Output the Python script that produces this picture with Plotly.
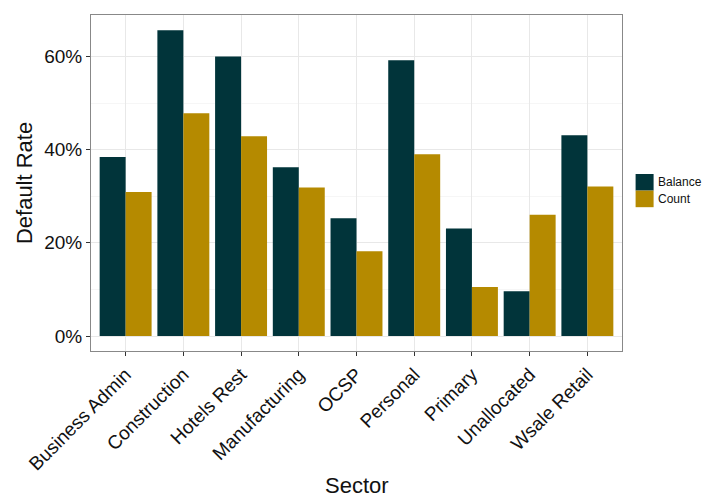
import plotly.graph_objects as go

sectors = ["Business Admin", "Construction", "Hotels Rest", "Manufacturing", "OCSP",
           "Personal", "Primary", "Unallocated", "Wsale Retail"]
balance = [0.384, 0.656, 0.600, 0.362, 0.253, 0.592, 0.231, 0.096, 0.431]
count = [0.309, 0.478, 0.429, 0.319, 0.182, 0.390, 0.105, 0.260, 0.321]
series_names = ["Balance", "Count"]
colors = ["#01343A", "#B58A00"]
y_ticks = [0, 0.2, 0.4, 0.6]

FONT = "Liberation Sans, Arial, sans-serif"

fig = go.Figure()
for name, vals, col in zip(series_names, [balance, count], colors):
    fig.add_trace(go.Bar(x=sectors, y=vals, name=name, marker=dict(color=col, line=dict(width=0)),
                         showlegend=False))

fig.update_layout(
    width=703, height=498,
    margin=dict(l=91, r=81, t=15, b=147),
    paper_bgcolor="white", plot_bgcolor="white",
    barmode="group", bargap=0.1, bargroupgap=0,
    font=dict(family=FONT, color="#111111"),
)
fig.update_xaxes(
    range=[-0.6, 8.6], tickangle=-45, tickfont=dict(size=19, color="#111111"),
    showgrid=True, gridcolor="#E8E8E8", gridwidth=1,
    ticks="outside", ticklen=4, tickcolor="#333333",
    showline=True, mirror=True, linecolor="#888888", linewidth=1,
)
fig.update_yaxes(
    range=[-0.0322, 0.689], tickvals=y_ticks, tickformat=".0%",
    tickfont=dict(size=19, color="#111111"),
    showgrid=True, gridcolor="#E8E8E8", gridwidth=1,
    minor=dict(showgrid=True, dtick=0.1, tick0=0, gridcolor="#F6F6F6"),
    zeroline=False,
    ticks="outside", ticklen=4, tickcolor="#333333",
    showline=True, mirror=True, linecolor="#888888", linewidth=1,
)

# axis titles
fig.add_annotation(text="Default Rate", xref="paper", yref="paper", x=-0.126, y=0.5,
                   textangle=-90, showarrow=False, font=dict(size=22, color="#111111"),
                   xanchor="center", yanchor="middle")
fig.add_annotation(text="Sector", xref="paper", yref="paper", x=0.5, y=-0.40,
                   showarrow=False, font=dict(size=22, color="#111111"),
                   xanchor="center", yanchor="middle")

# legend (manual)
key_x0, key_x1 = 1.0256, 1.0595
key_tops = [0.5268, 0.4774]
key_h = 0.0494
for name, col, top in zip(series_names, colors, key_tops):
    fig.add_shape(type="rect", xref="paper", yref="paper", x0=key_x0, x1=key_x1,
                  y0=top - key_h, y1=top, fillcolor=col, line=dict(width=0))
    fig.add_annotation(text=name, xref="paper", yref="paper", x=1.0635, y=top - key_h / 2,
                       xanchor="left", yanchor="middle", showarrow=False,
                       font=dict(size=12, color="#111111"))

fig.write_html("out.html", config={"displayModeBar": False},
               post_script="document.body.style.margin='0';document.body.style.overflow='hidden';")
